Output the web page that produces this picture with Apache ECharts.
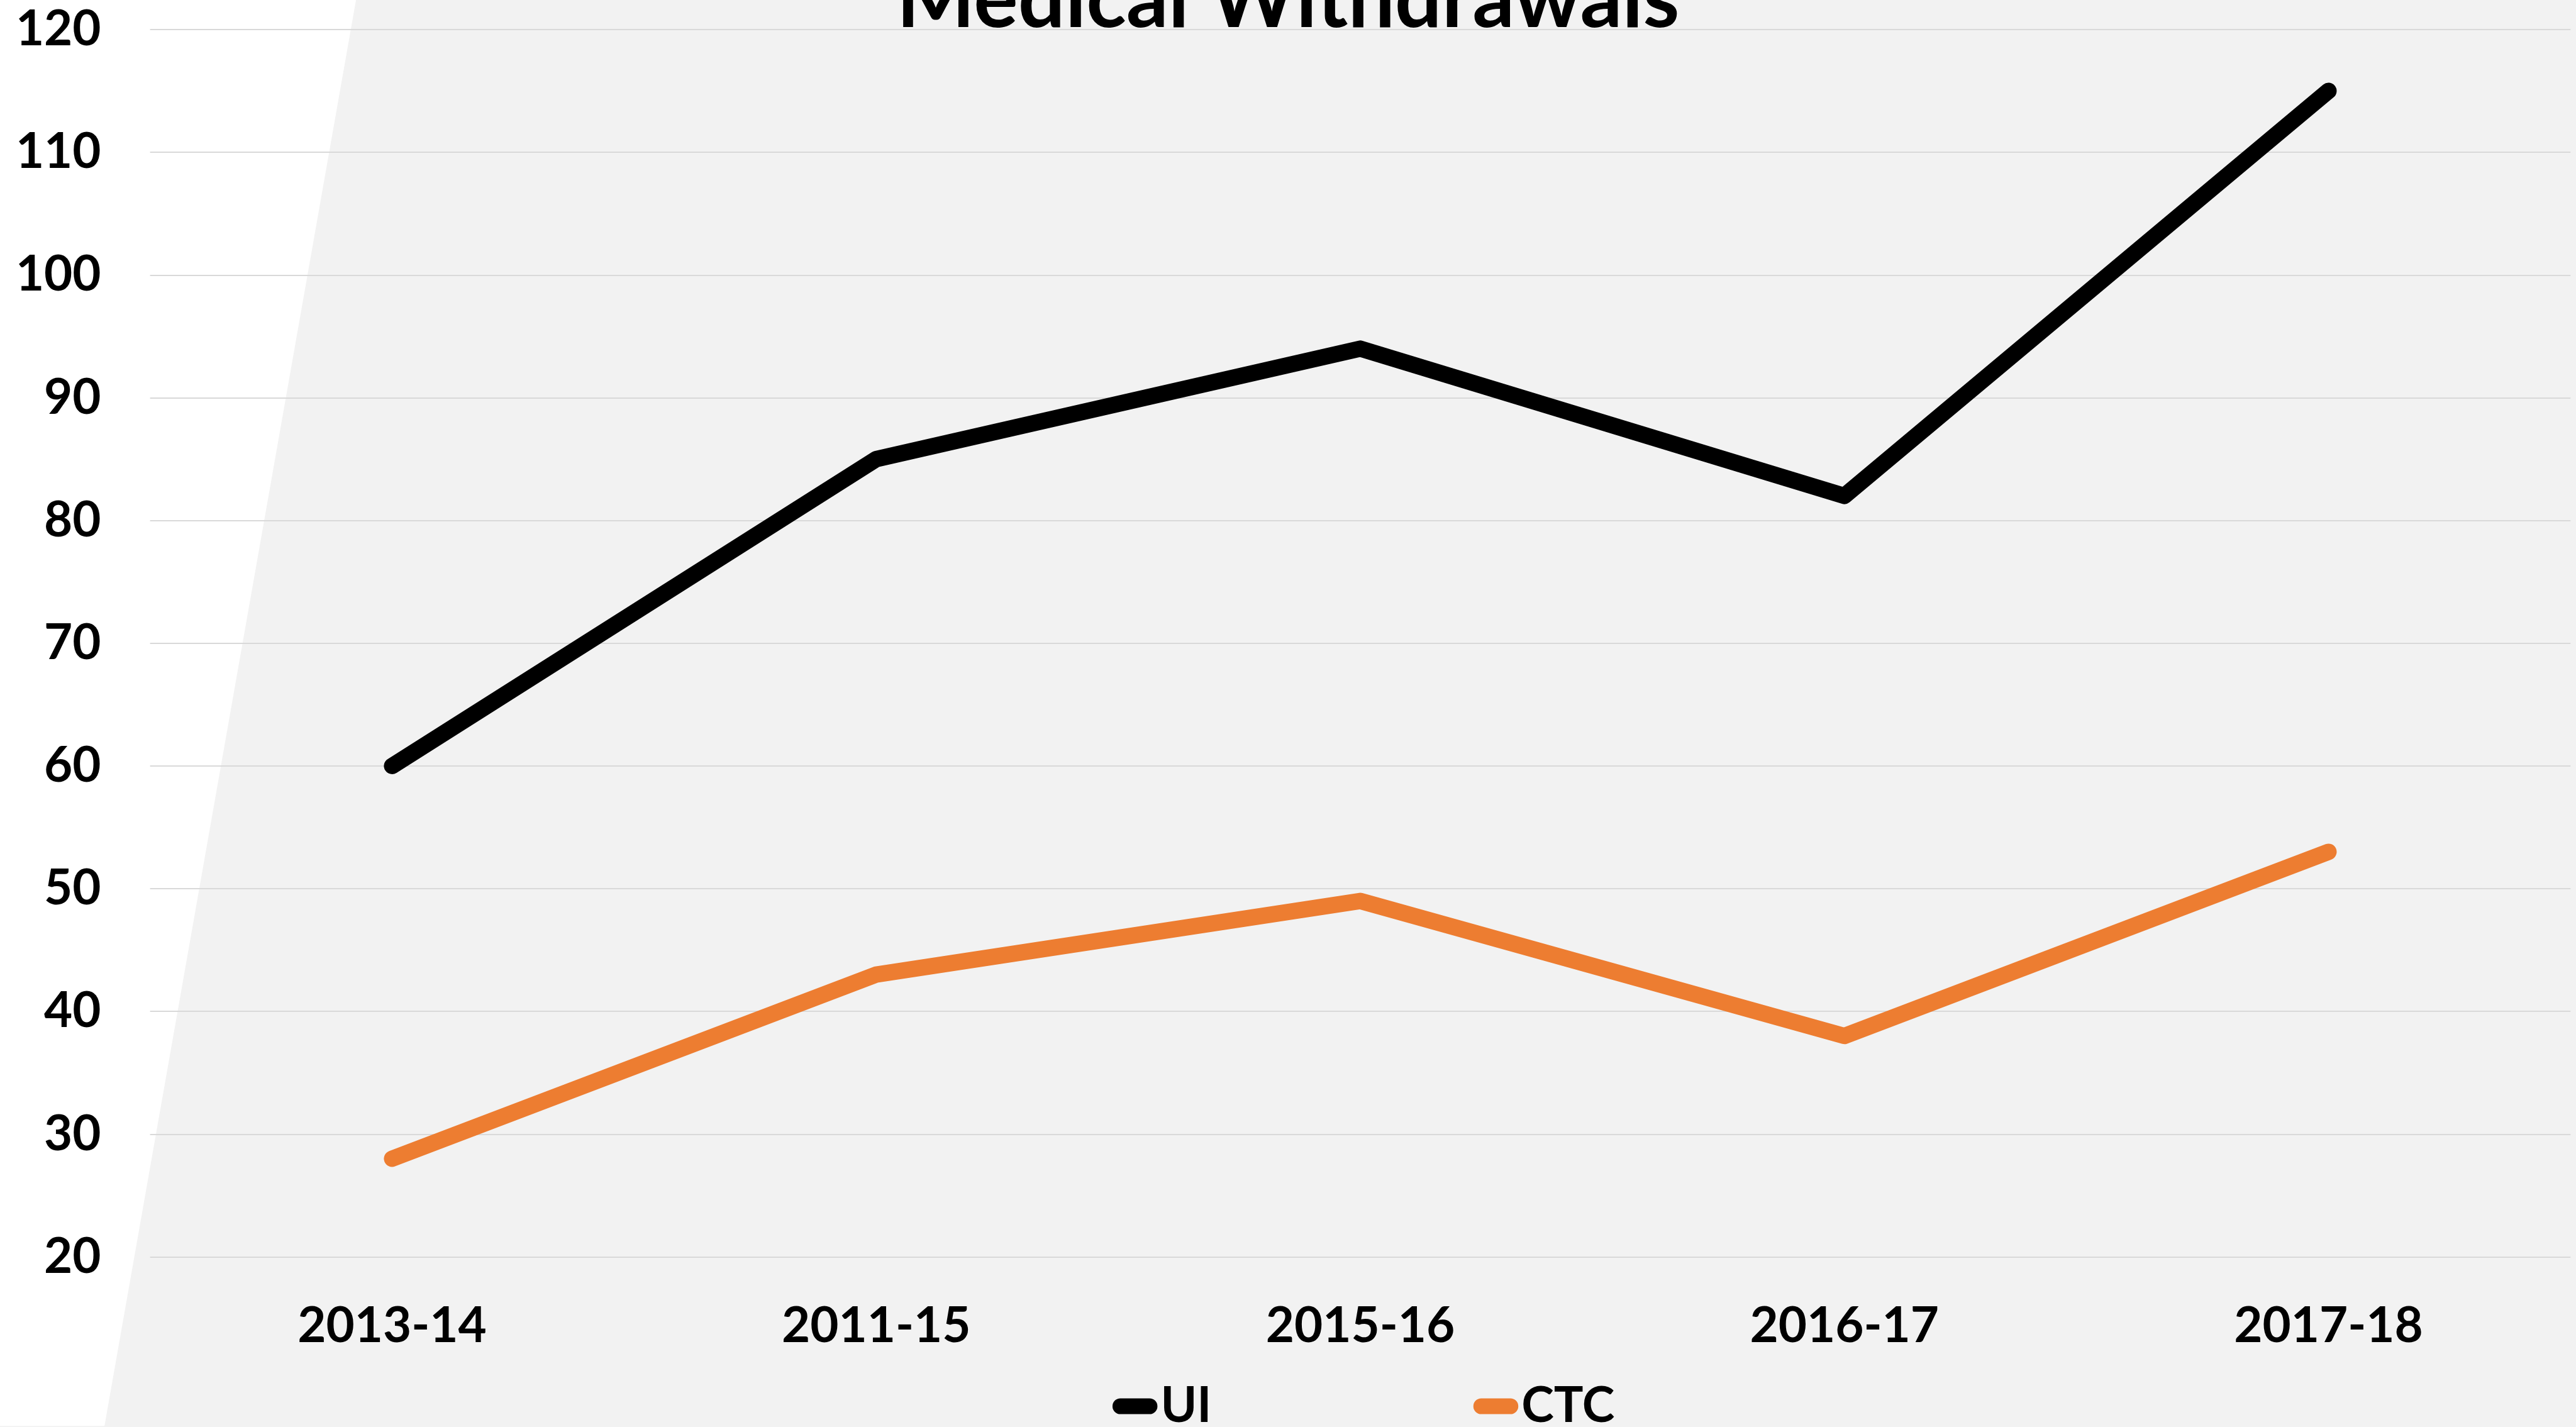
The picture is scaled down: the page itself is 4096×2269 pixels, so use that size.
<!DOCTYPE html>
<html lang="en">
<head>
    <meta charset="UTF-8">
    <title>Medical Withdrawals</title>
    <script src="https://cdn.jsdelivr.net/npm/echarts@6/dist/echarts.min.js"></script>
    <style>
        html, body { margin: 0; padding: 0; background: #F2F2F2; }
        #chart { width: 4096px; height: 2269px; }
    </style>
</head>
<body>
<div id="chart"></div>
<script type="text/javascript">
	// data
	var years = ['2013-14', '2011-15', '2015-16', '2016-17', '2017-18'];
	var uiValues = [60, 85, 94, 82, 115];
	var ctcValues = [28, 43, 49, 38, 53];
	var yMin = 20, yMax = 120, yStep = 10;

	var S = 0.966; // reference px -> page px
	var FONT = 'Lato, "Open Sans", sans-serif';

	var chart = echarts.init(document.getElementById('chart'));

	// legend icon: a short line with round ends
	var stadium = 'path://M13,0 H61 A13,13 0 0 1 61,26 H13 A13,13 0 0 1 13,0 Z';

	var option = {
		backgroundColor: '#F2F2F2',
		animation: false,
		title: {
			text: 'Medical Withdrawals',
			left: 'center',
			top: -71,
			textStyle: {
				fontFamily: FONT,
				fontWeight: 'bold',
				fontSize: 132,
				color: '#000'
			}
		},
		// white wedge on the left of the slide background
		graphic: [{
			type: 'polygon',
			z: -10,
			silent: true,
			shape: {
				points: [[0, 0], [586 * S, 0], [172 * S, 2347 * S], [0, 2347 * S]]
			},
			style: { fill: '#FFFFFF' }
		}],
		legend: [{
			data: ['UI'],
			left: 1826 * S,
			top: 2192,
			icon: stadium,
			itemWidth: 74 * S,
			itemHeight: 27 * S,
			textStyle: { fontFamily: FONT, fontWeight: 'bold', fontSize: 78, color: '#000' }
		}, {
			data: ['CTC'],
			left: 2420 * S,
			top: 2192,
			icon: stadium,
			itemWidth: 74 * S,
			itemHeight: 27 * S,
			textStyle: { fontFamily: FONT, fontWeight: 'bold', fontSize: 78, color: '#000' }
		}],
		grid: {
			left: 247 * S,
			right: 9 * S,
			top: 48.6 * S,
			bottom: (2347 - 2067) * S,
			containLabel: false,
			outerBoundsMode: 'none'
		},
		xAxis: {
			type: 'category',
			data: years,
			boundaryGap: true,
			axisLine: { show: false },
			axisTick: { show: false },
			axisLabel: {
				margin: 71,
				fontFamily: FONT,
				fontWeight: 'bold',
				fontSize: 78,
				color: '#000'
			}
		},
		yAxis: {
			type: 'value',
			min: yMin,
			max: yMax,
			interval: yStep,
			axisLine: { show: false },
			axisTick: { show: false },
			splitLine: { lineStyle: { color: '#D9D9D9', width: 2 } },
			axisLabel: {
				margin: 78,
				fontFamily: FONT,
				fontWeight: 'bold',
				fontSize: 78,
				color: '#000'
			}
		},
		series: [{
			name: 'UI',
			type: 'line',
			data: uiValues,
			showSymbol: false,
			color: '#000000',
			lineStyle: { width: 27 * S, cap: 'round', join: 'round', color: '#000000' }
		}, {
			name: 'CTC',
			type: 'line',
			data: ctcValues,
			showSymbol: false,
			color: '#ED7D31',
			lineStyle: { width: 27 * S, cap: 'round', join: 'round', color: '#ED7D31' }
		}]
	};
	chart.setOption(option);
</script>
</body>
</html>
